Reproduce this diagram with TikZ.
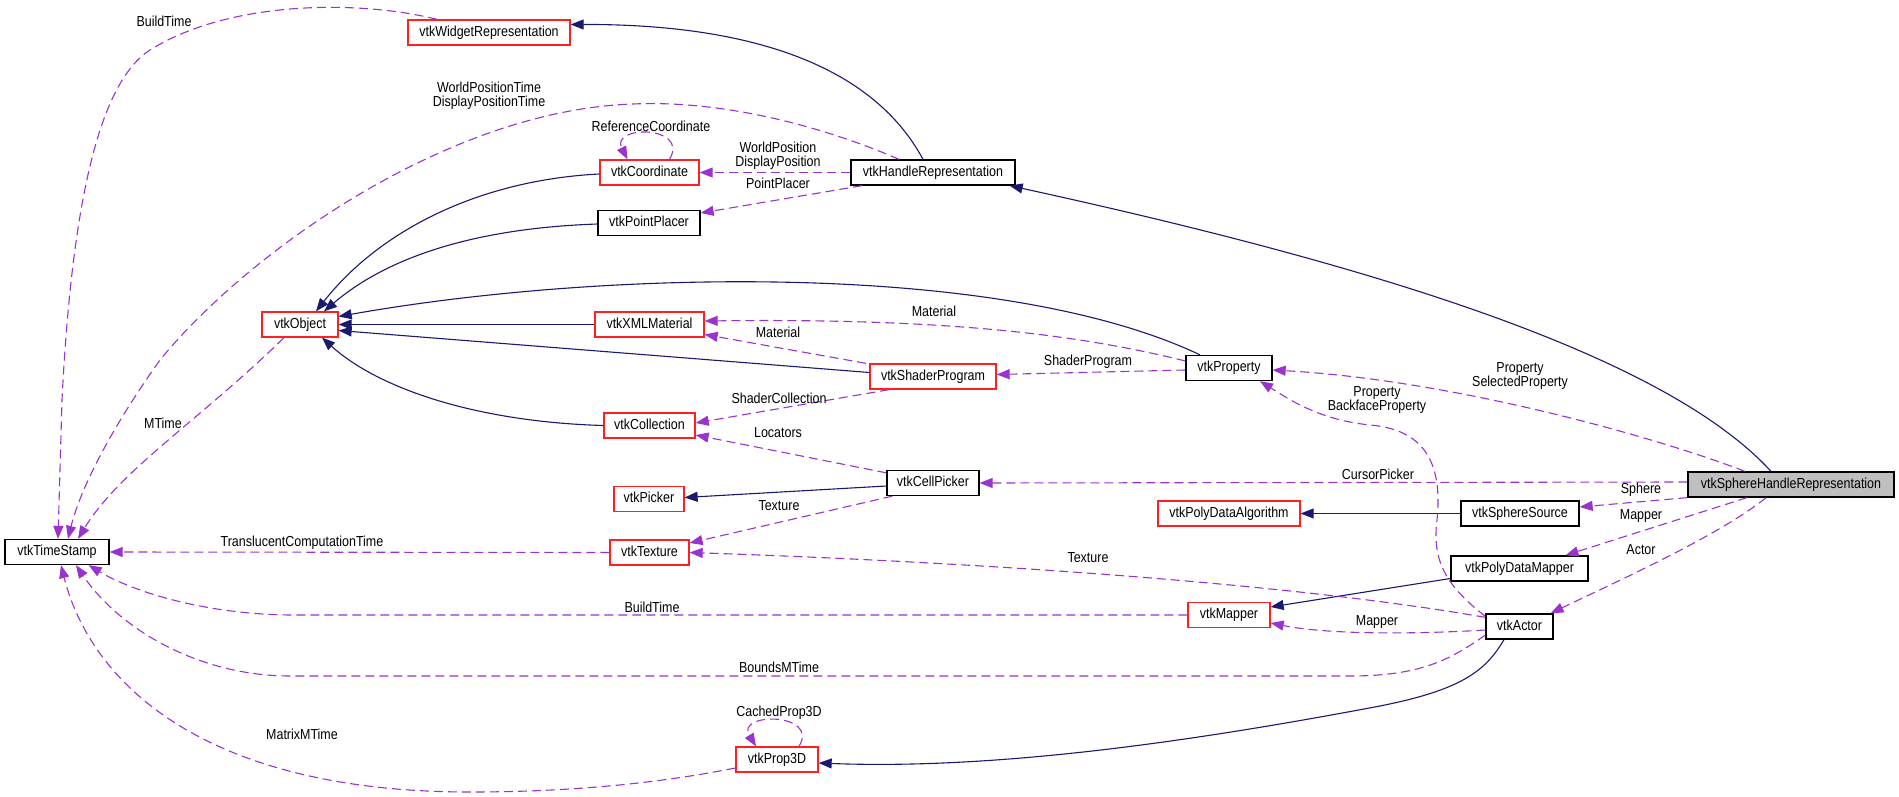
\documentclass[tikz,border=0pt]{standalone}
\usepackage{fontspec}
\setmainfont{Liberation Sans}[FakeStretch=0.86]
\usetikzlibrary{arrows.meta}
\definecolor{navy}{HTML}{191970}
\definecolor{usecol}{HTML}{9A32CD}
\definecolor{grayfill}{HTML}{BFBFBF}
\definecolor{boxred}{HTML}{FF2020}
\tikzset{
  cls/.style={draw=black, line width=1.3pt, minimum height=25pt, inner sep=0pt,
    font=\fontsize{14.5}{16}\selectfont, text height=10.5pt, text depth=3pt},
  redcls/.style={cls, draw=boxred},
  inh/.style={draw=navy, line width=1.1pt, -{Triangle[length=13pt,width=10pt]}},
  use/.style={draw=usecol, line width=1.1pt, dash pattern=on 9pt off 5pt, -{Triangle[length=13pt,width=10pt]}},
  lbl/.style={font=\fontsize{14.5}{14}\selectfont, inner sep=0pt, align=center}
}
\begin{document}
\begin{tikzpicture}[x=1pt,y=-1pt]
\useasboundingbox (0,0) rectangle (1899,797);
% classes
\node[redcls, minimum width=162pt] (wr) at (489,32.5) {vtkWidgetRepresentation};
\node[redcls, minimum width=76pt] (obj) at (300,324.5) {vtkObject};
\node[redcls, minimum width=99pt] (coord) at (649.5,172.5) {vtkCoordinate};
\node[cls, minimum width=164pt] (hr) at (933,172.5) {vtkHandleRepresentation};
\node[cls, minimum width=102pt] (pp) at (649,223) {vtkPointPlacer};
\node[redcls, minimum width=109pt] (xml) at (649.5,324.5) {vtkXMLMaterial};
\node[redcls, minimum width=126pt] (sp) at (933,376.5) {vtkShaderProgram};
\node[cls, minimum width=86pt] (prop) at (1229,368) {vtkProperty};
\node[redcls, minimum width=91pt] (coll) at (649.5,425.5) {vtkCollection};
\node[cls, minimum width=92pt] (cp) at (933,483) {vtkCellPicker};
\node[redcls, minimum width=70pt] (pick) at (649,499) {vtkPicker};
\node[redcls, minimum width=79pt] (tex) at (649.5,552.5) {vtkTexture};
\node[cls, minimum width=104pt] (ts) at (57,552) {vtkTimeStamp};
\node[redcls, minimum width=142pt] (pda) at (1229,513.5) {vtkPolyDataAlgorithm};
\node[cls, minimum width=118pt] (ss) at (1520,513.5) {vtkSphereSource};
\node[cls, fill=grayfill, minimum width=206pt] (shr) at (1791,484.5) {vtkSphereHandleRepresentation};
\node[cls, minimum width=137pt] (pdm) at (1519.5,568.5) {vtkPolyDataMapper};
\node[redcls, minimum width=82pt] (map) at (1229,615) {vtkMapper};
\node[cls, minimum width=67pt] (act) at (1519.5,626.5) {vtkActor};
\node[redcls, minimum width=82pt] (p3d) at (777,759.5) {vtkProp3D};
% inheritance
\draw[inh] ([xshift=-10pt]hr.north) .. controls (875,70) and (760,24) .. ([yshift=8pt]wr.east);
\draw[inh] ([xshift=-20pt]shr.north) .. controls (1660,350) and (1350,260) .. ([xshift=-6pt]hr.south east);
\draw[inh] ([yshift=-1.5pt]coord.west) .. controls (480,180) and (380,230) .. ([xshift=16pt]obj.north);
\draw[inh] ([yshift=-1pt]pp.west) .. controls (480,228) and (390,255) .. ([xshift=24pt]obj.north);
\draw[inh] ([xshift=-29pt]prop.north) .. controls (1000,260) and (600,270) .. ([yshift=8pt]obj.east);
\draw[inh] (xml.west) -- (obj.east);
\draw[inh] ([yshift=4pt]sp.west) -- ([yshift=-6pt]obj.east);
\draw[inh] (coll.west) .. controls (480,422) and (380,390) .. ([xshift=22pt]obj.south);
\draw[inh] ([yshift=-3pt]cp.west) -- ([yshift=1.5pt]pick.east);
\draw[inh] (ss.west) -- (pda.east);
\draw[inh] ([yshift=-10pt]pdm.west) -- ([yshift=8pt]map.east);
\draw[inh] ([xshift=-15.5pt]act.south) .. controls (1485,672) and (1460,690) .. (1380,706)
  .. controls (1200,740) and (1000,770) .. ([yshift=-3.5pt]p3d.east);
% usage
\draw[use] ([xshift=-52pt]wr.north) .. controls (360,0) and (230,0) .. (150,50)
  .. controls (100,82) and (72,200) .. (62,400) -- ([xshift=1pt]ts.north);
\draw[use] ([xshift=-34pt]hr.north) .. controls (820,125) and (720,100) .. (633,104)
  .. controls (450,110) and (250,250) .. (160,360) .. controls (110,430) and (80,490) .. ([xshift=11pt]ts.north);
\draw[use] ([xshift=-16pt]obj.south) .. controls (200,420) and (120,470) .. ([xshift=21pt]ts.north);
\draw[use] (hr.west) -- (coord.east);
\draw[use] ([xshift=20pt]coord.north) .. controls (690,125) and (610,125) .. ([xshift=-22pt]coord.north);
\draw[use] ([xshift=-71pt]hr.south) -- ([yshift=10pt]pp.east);
\draw[use] ([yshift=7pt]prop.west) .. controls (1080,335) and (950,318) .. ([yshift=3.5pt]xml.east);
\draw[use] ([xshift=-67pt]sp.north) -- ([yshift=-10pt]xml.east);
\draw[use] ([yshift=-2pt]prop.west) -- ([yshift=2pt]sp.east);
\draw[use] ([xshift=-44pt]sp.south) -- ([yshift=2.5pt]coll.east);
\draw[use] ([yshift=-3pt]cp.north west) -- ([yshift=-9.5pt]coll.east);
\draw[use] ([xshift=6pt]cp.south west) -- ([yshift=9.5pt]tex.east);
\draw[use] ([yshift=2.5pt]shr.west) -- (cp.east);
\draw[use] ([xshift=-46pt]shr.north) .. controls (1650,435) and (1450,380) .. ([yshift=-2pt]prop.east);
\draw[use] ([yshift=-3pt]act.north west) .. controls (1445,585) and (1432,560) .. (1437,520)
  .. controls (1442,470) and (1430,430) .. (1370,425) .. controls (1320,420) and (1290,400) .. ([xshift=31pt]prop.south);
\draw[use] (shr.south west) -- ([yshift=6.5pt]ss.east);
\draw[use] ([xshift=-44pt]shr.south) -- ([xshift=46pt]pdm.north);
\draw[use] ([xshift=-25pt]shr.south) .. controls (1720,535) and (1620,580) .. ([xshift=31pt]act.north);
\draw[use] ([yshift=-3.5pt]act.west) .. controls (1420,634) and (1330,635) .. ([yshift=-8pt]map.east);
\draw[use] ([yshift=-4pt]act.north west) .. controls (1300,585) and (1000,563) .. (tex.east);
\draw[use] (tex.west) -- (ts.east);
\draw[use] (map.west) -- (290,615) .. controls (200,614) and (130,590) .. ([xshift=-21pt]ts.south east);
\draw[use] ([yshift=-8.5pt]act.west) .. controls (1450,660) and (1420,676) .. (1350,676) -- (290,676)
  .. controls (200,676) and (120,630) .. ([xshift=19pt]ts.south);
\draw[use] ([yshift=-8.5pt]p3d.west) .. controls (650,785) and (560,792) .. (470,792)
  .. controls (200,792) and (90,680) .. ([xshift=4pt]ts.south);
\draw[use] ([xshift=22pt]p3d.north) .. controls (820,712) and (735,712) .. ([xshift=-21pt]p3d.north);
% labels
\node[lbl] (lbBuild1) at (164,21) {BuildTime};
\node[lbl] (lbWPT) at (489,96) {WorldPositionTime\\DisplayPositionTime};
\node[lbl] (lbMTime) at (163,423) {MTime};
\node[lbl] (lbWP) at (778,156) {WorldPosition\\DisplayPosition};
\node[lbl] (lbRef) at (651,126) {ReferenceCoordinate};
\node[lbl] (lbPP) at (778,183) {PointPlacer};
\node[lbl] (lbMat1) at (934,311) {Material};
\node[lbl] (lbMat2) at (778,332) {Material};
\node[lbl] (lbSP) at (1088,362) {ShaderProgram};
\node[lbl] (lbSC) at (779,398) {ShaderCollection};
\node[lbl] (lbLoc) at (778,433) {Locators};
\node[lbl] (lbTex1) at (779,506) {Texture};
\node[lbl] (lbCP) at (1378,474) {CursorPicker};
\node[lbl] (lbProp1) at (1520,376) {Property\\SelectedProperty};
\node[lbl] (lbProp2) at (1377,400) {Property\\BackfaceProperty};
\node[lbl] (lbSphere) at (1641,490) {Sphere};
\node[lbl] (lbMapper1) at (1641,516) {Mapper};
\node[lbl] (lbActor) at (1641,550) {Actor};
\node[lbl] (lbMapper2) at (1377,622) {Mapper};
\node[lbl] (lbTex2) at (1088,558) {Texture};
\node[lbl] (lbTCT) at (302,543) {TranslucentComputationTime};
\node[lbl] (lbBuild2) at (652,607) {BuildTime};
\node[lbl] (lbBounds) at (779,667) {BoundsMTime};
\node[lbl] (lbMatrix) at (302,734) {MatrixMTime};
\node[lbl] (lbCached) at (779,713) {CachedProp3D};
\end{tikzpicture}
\end{document}
